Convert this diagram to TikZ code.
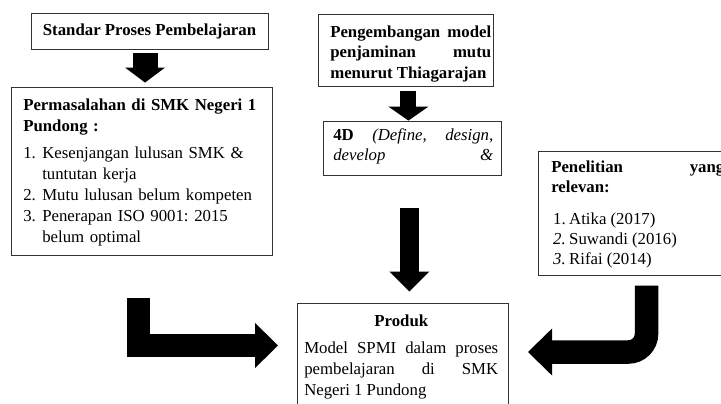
\documentclass[tikz,border=0pt]{standalone}
\usepackage{fontspec}
\setmainfont{Liberation Serif}
\usetikzlibrary{arrows.meta}
\setlength{\parindent}{0pt}
\frenchspacing

\begin{document}
\begin{tikzpicture}[x=0.715pt,y=-0.715pt,
		box/.style={draw=black!80,line width=0.6pt,inner sep=0pt},
		txt/.style={anchor=north west,inner sep=0pt,text width=#1},
		fat/.style n args={3}{line width=#1,-{Triangle[width=#2,length=#3,line width=0pt]}}]
	\useasboundingbox (0,0) rectangle (721,403);
	\clip (0,0) rectangle (721,403);
	\node[box,minimum width=169.5pt,minimum height=25.7pt,font=\fontsize{12pt}{14.8pt}\selectfont\bfseries] (std) at (149.5,31) {Standar Proses Pembelajaran};
	\node[box,minimum width=186.6pt,minimum height=120.1pt] (masalah) at (141.5,171) {};
	\node[box,minimum width=125.1pt,minimum height=51.5pt] (model) at (405.5,50) {};
	\node[box,minimum width=127.3pt,minimum height=38.6pt] (fourd) at (412,148) {};
	\node[box,minimum width=141.6pt,minimum height=88.7pt] (relevan) at (637,213) {};
	\node[box,minimum width=150.9pt,minimum height=98pt] (produk) at (402.5,371.5) {};
	\node[txt=170.9pt,align=left,font=\fontsize{12pt}{15pt}\selectfont] (masalahtxt) at (23,95.3) {\strut\textbf{Permasalahan di SMK Negeri 1\newline Pundong :}\par\vspace{4.5pt}
		\hangindent=13.6pt\hangafter=1\makebox[13.6pt][l]{1.}Kesenjangan lulusan SMK \&\newline tuntutan kerja\par
		\hangindent=13.6pt\hangafter=1\makebox[13.6pt][l]{2.}Mutu lulusan belum kompeten\par
		\hangindent=13.6pt\hangafter=1\makebox[13.6pt][l]{3.}Penerapan ISO 9001: 2015\newline belum optimal\par};
	\node[txt=115.1pt,align=justify,font=\fontsize{12pt}{14.7pt}\selectfont\bfseries] (modeltxt) at (330,22.6) {\strut Pengembangan model\linebreak penjaminan mutu\linebreak menurut Thiagarajan};
	\node[txt=114.4pt,align=justify,font=\fontsize{12pt}{14.3pt}\selectfont] (fourdtxt) at (333,126) {\strut\textbf{4D} \textit{(Define, design,}\linebreak\textit{develop}\hfill\textit{\&}};
	\node[txt=123.7pt,align=justify,font=\fontsize{12pt}{14.3pt}\selectfont] (relevantxt) at (551,158) {\strut\textbf{Penelitian yang\linebreak relevan:}\par\vspace{8.6pt}
		\hspace*{1.4pt}\makebox[11.4pt][l]{1.}Atika (2017)\par
		\hspace*{1.4pt}\makebox[11.4pt][l]{\textit{2.}}Suwandi (2016)\par
		\hspace*{1.4pt}\makebox[11.4pt][l]{\textit{3.}}Rifai (2014)};
	\node[txt=138.7pt,align=justify,font=\fontsize{12pt}{15pt}\selectfont] (produktxt) at (304,311.3) {{\centering\strut\textbf{Produk}\par}\vspace{4.3pt}
		Model SPMI dalam proses\linebreak pembelajaran di SMK\linebreak Negeri 1 Pundong};
	\coordinate (a1) at ([xshift=-3.2pt]std.south);
	\draw[fat={17.9pt}{28.6pt}{10.7pt},shorten <=2.9pt,shorten >=2.9pt] (a1) -- (a1 |- masalah.north);
	\coordinate (a2) at ([xshift=2.1pt]model.south);
	\draw[fat={11.4pt}{28.6pt}{10pt},shorten <=3.6pt] (a2) -- (a2 |- fourd.north);
	\coordinate (a3) at ([xshift=-1.8pt]fourd.south);
	\draw[fat={13.6pt}{28.6pt}{14.3pt},shorten <=23.6pt,shorten >=7.9pt] (a3) -- (a3 |- produk.north);
	\coordinate (l1) at ([xshift=-2.1pt]masalah.south);
	\coordinate (l2) at (278,345.5);
	\draw[fat={16.4pt}{32.2pt}{16.4pt},shorten <=30.7pt] (l1) |- (l2);
	\coordinate (u1) at ([xshift=6.8pt]relevan.south);
	\coordinate (u2) at (528,352);
	\draw[fat={16.8pt}{33.6pt}{17.2pt},shorten <=7.2pt,rounded corners=13pt] (u1) |- (u2);
\end{tikzpicture}
\end{document}
